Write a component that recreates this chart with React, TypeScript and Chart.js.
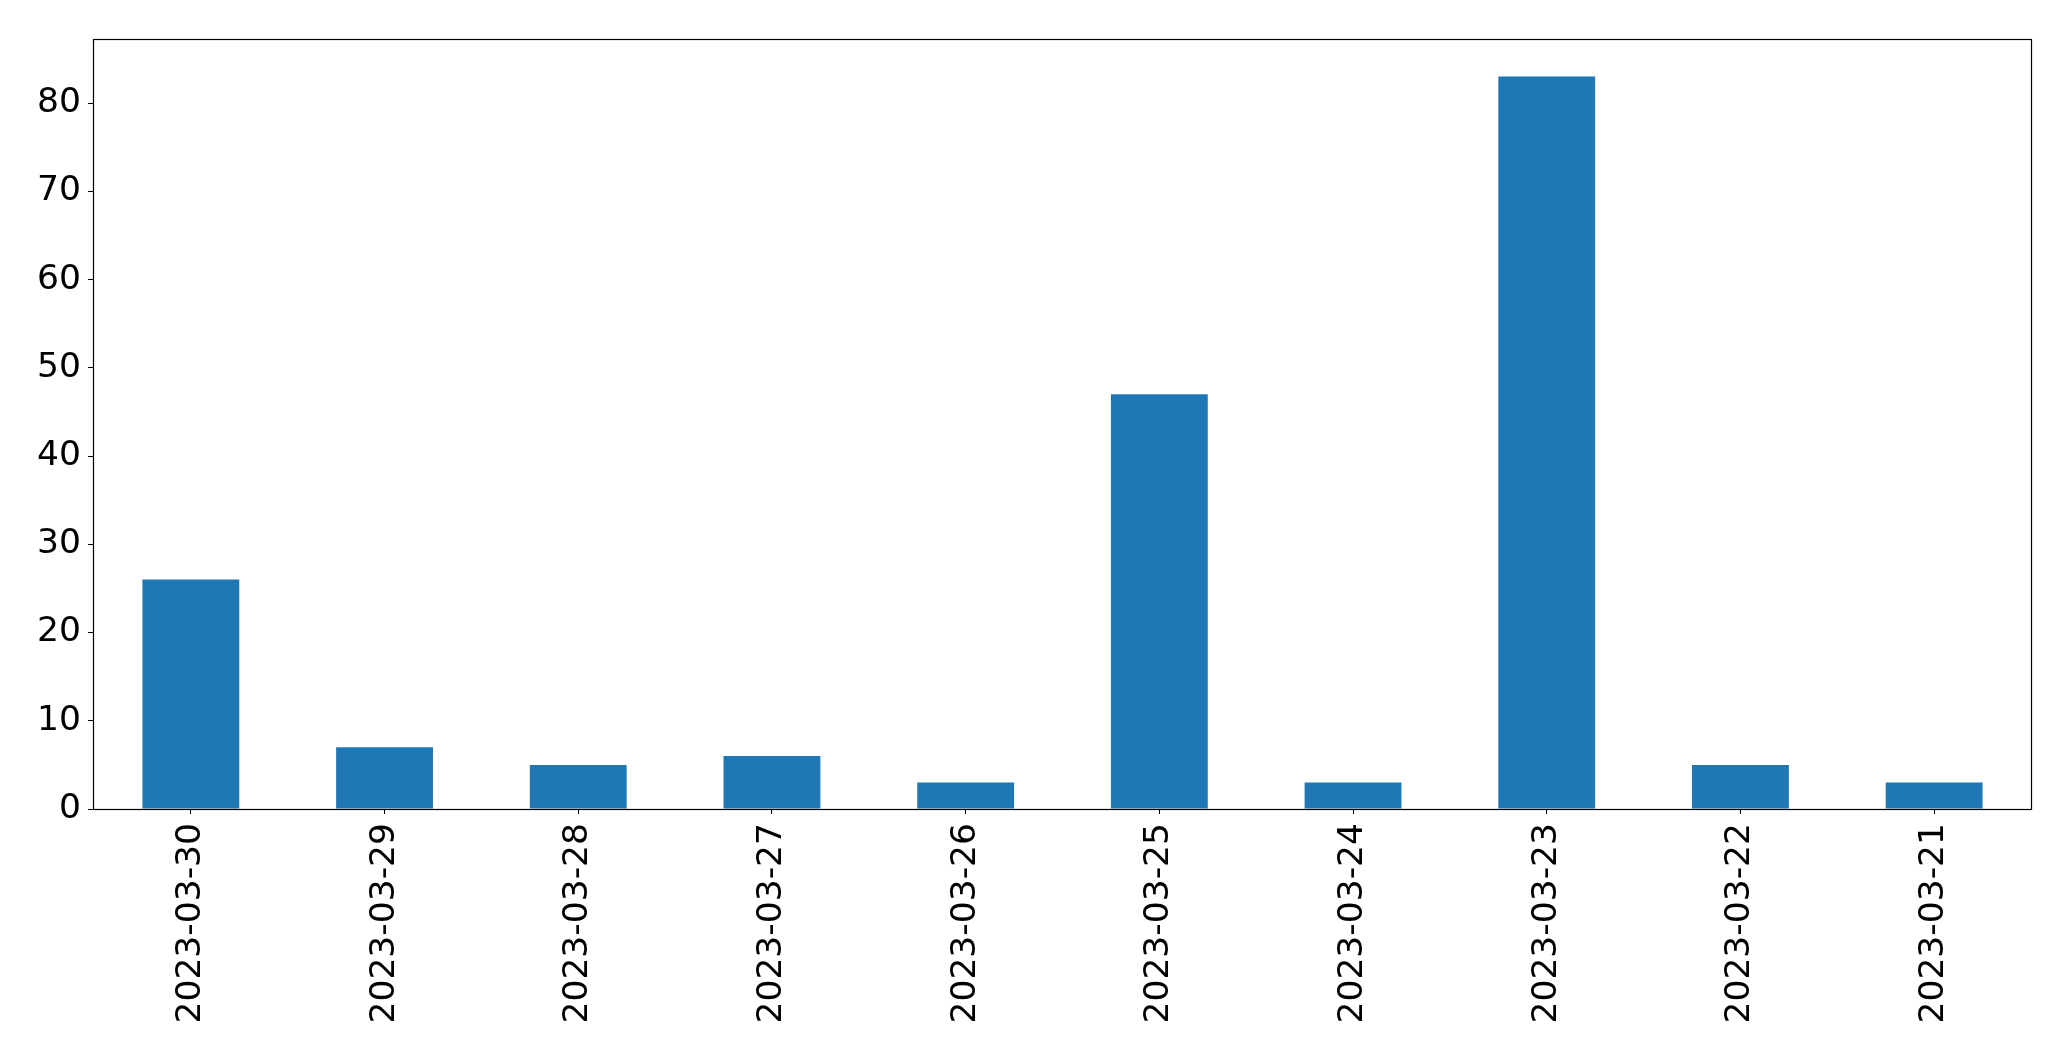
import React, { useEffect, useRef } from "react";
import { Chart, registerables } from "chart.js";

Chart.register(...registerables);

const categories = [
  "2023-03-30",
  "2023-03-29",
  "2023-03-28",
  "2023-03-27",
  "2023-03-26",
  "2023-03-25",
  "2023-03-24",
  "2023-03-23",
  "2023-03-22",
  "2023-03-21",
];
const values = [26, 7, 5, 6, 3, 47, 3, 83, 5, 3];
const yTicks = [0, 10, 20, 30, 40, 50, 60, 70, 80];
const yMax = 87.15;

const W = 2071;
const H = 1061;
const FONT = { family: "'DejaVu Sans'", size: 34.5 };

const framePlugin = {
  id: "frame",
  afterDatasetsDraw(chart: any) {
    const { ctx, chartArea } = chart;
    const l = Math.round(chartArea.left) - 0.5;
    const t = Math.round(chartArea.top) - 0.5;
    const r = Math.round(chartArea.right) + 0.5;
    const b = Math.round(chartArea.bottom) + 0.5;
    ctx.save();
    ctx.strokeStyle = "#000";
    ctx.lineWidth = 1.2;
    ctx.strokeRect(l, t, r - l, b - t);
    ctx.restore();
  },
};

export default function App() {
  const ref = useRef<HTMLCanvasElement | null>(null);

  useEffect(() => {
    if (!ref.current) return;
    const chart = new Chart(ref.current, {
      type: "bar",
      data: {
        labels: categories,
        datasets: [
          {
            data: values,
            backgroundColor: "#1f77b4",
            borderWidth: 0,
            barPercentage: 0.5,
            categoryPercentage: 1.0,
          },
        ],
      },
      options: {
        animation: false,
        responsive: false,
        maintainAspectRatio: false,
        layout: { padding: { left: 0, top: 40, right: 40, bottom: 0 } },
        plugins: {
          legend: { display: false },
          tooltip: { enabled: false },
          title: { display: false },
        },
        scales: {
          x: {
            type: "category",
            offset: true,
            grid: {
              display: true,
              offset: false,
              drawOnChartArea: false,
              drawTicks: true,
              tickLength: 5,
              tickColor: "#000",
              tickWidth: 1,
            },
            border: { display: false },
            ticks: {
              color: "#000",
              font: FONT,
              minRotation: 90,
              maxRotation: 90,
              padding: 9,
              autoSkip: false,
            },
            afterFit(scale: any) {
              scale.height = H - 809;
            },
          },
          y: {
            type: "linear",
            min: 0,
            max: yMax,
            grid: {
              display: true,
              drawOnChartArea: false,
              drawTicks: true,
              tickLength: 6,
              tickColor: "#000",
              tickWidth: 1,
            },
            border: { display: false },
            ticks: {
              color: "#000",
              font: FONT,
              padding: 7,
            },
            afterBuildTicks(scale: any) {
              scale.ticks = yTicks.map((v) => ({ value: v }));
            },
            afterFit(scale: any) {
              scale.width = 94;
            },
          },
        },
      } as any,
      plugins: [framePlugin],
    });
    return () => chart.destroy();
  }, []);

  return (
    <div style={{ position: "absolute", left: 0, top: 0, width: W, height: H, background: "#fff" }}>
      <canvas ref={ref} width={W} height={H} style={{ display: "block", width: W, height: H }} />
    </div>
  );
}
